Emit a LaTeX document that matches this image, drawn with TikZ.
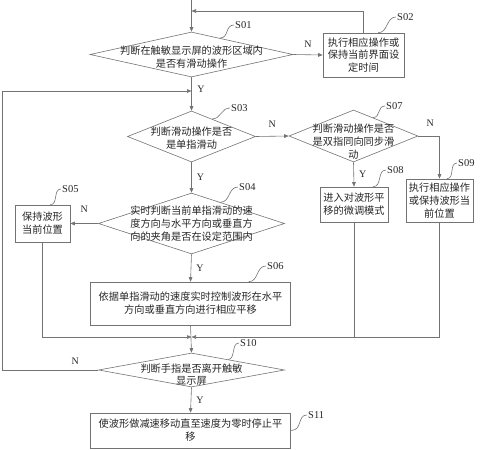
\documentclass[tikz,border=0pt]{standalone}
\usepackage{fontspec}
\setmainfont{Liberation Serif}
\newfontfamily\cjk{Noto Sans CJK SC}
\usetikzlibrary{shapes.geometric,arrows.meta,calc}
\begin{document}
\begin{tikzpicture}[x=1pt,y=-1pt,
  line/.style={draw=black!55,line width=0.6pt},
  arr/.style={line,-{Triangle[length=4.5pt,width=3.6pt]}},
  dia/.style n args={2}{diamond,line,inner sep=0pt,minimum width=#1pt,minimum height=#2pt},
  box/.style n args={2}{rectangle,line,inner sep=0pt,minimum width=#1pt,minimum height=#2pt},
  txt/.style={align=center,text=black!85,font=\cjk\fontsize{10.2}{12.8}\selectfont,inner sep=0pt},
  lab/.style={text=black!85,font=\fontsize{10.5}{12}\selectfont,inner sep=1pt},
  yn/.style={text=black!85,font=\fontsize{10}{12}\selectfont,inner sep=2pt}]
\useasboundingbox (0,0) rectangle (488,450);

% shapes
\node[dia={203}{45}] (d1) at (191.5,54.5) {};
\node[txt] (t1) at (191.5,57) {判断在触敏显示屏的波形区域内\\是否有滑动操作};
\node[box={81}{44},txt] (b2) at (363.5,55) {执行相应操作或\\保持当前界面设\\定时间};
\node[dia={128}{51}] (d3) at (191.5,136.5) {};
\node[txt] (t3) at (191.5,138.5) {判断滑动操作是否\\是单指滑动};
\node[dia={129}{52}] (d7) at (353.5,136) {};
\node[txt] (t7) at (353.5,141.5) {判断滑动操作是否\\是双指同向同步滑\\动};
\node[box={68}{35},txt] (b8) at (354,204.5) {进入对波形平\\移的微调模式};
\node[box={67}{43},txt] (b9) at (439.5,200.5) {执行相应操作\\或保持波形当\\前位置};
\node[dia={186}{61}] (d4) at (191.5,223.5) {};
\node[txt] (t4) at (191.5,223.5) {实时判断当前单指滑动的速\\度方向与水平方向或垂直方\\向的夹角是否在设定范围内};
\node[box={55}{37},txt] (b5) at (42.5,223.5) {保持波形\\当前位置};
\node[box={200}{43},txt] (b6) at (190.5,303.5) {依据单指滑动的速度实时控制波形在水平\\方向或垂直方向进行相应平移};
\node[dia={186}{34}] (d10) at (191.5,370) {};
\node[txt] (t10) at (191.5,374.5) {判断手指是否离开触敏\\显示屏};
\node[box={200}{35},txt] (b11) at (190.5,430.5) {使波形做减速移动直至速度为零时停止平\\移};

% junction coordinates
\coordinate (top) at (191.5,0);
\coordinate (j0) at (191.5,11);
\coordinate (j1) at (191.5,91);
\coordinate (cl) at (2,91);
\coordinate (j2) at (191.5,337);

% connectors
\draw[arr] (top) -- (d1.north);
\draw[arr] (d1.east) -- node[yn,above=5pt]{N} (b2.west);
\draw[arr] (b2.north) |- (j0);
\draw[arr] (d1.south) -- (d3.north);
\node[yn] (y1) at (201,89) {Y};
\draw[arr] (d10.west) -| node[pos=0.12,yn,above=3pt]{N} (cl) -- (j1);
\draw[arr] (d3.east) -- node[yn,above=6pt]{N} (d7.west);
\draw[arr] (d3.south) -- node[yn,right=3pt]{Y} (d4.north);
\draw[arr] (d7.south) -- node[yn,right=3pt]{Y} (b8.north);
\draw[arr] (d7.east) -| node[pos=0.28,yn,above=7pt]{N} (b9.north);
\draw[arr] (d4.west) -- node[yn,above=9pt]{N} (b5.east);
\draw[arr] (d4.south) -- node[yn,right=3pt]{Y} (b6.north);
\draw[arr] (b5.south) |- (j2);
\draw[arr] (b9.south) |- (j2);
\draw[line] (b8.south) -- (b8.south |- j2);
\draw[arr] (b6.south) -- (d10.north);
\draw[arr] (d10.south) -- node[yn,right=3pt]{Y} (b11.north);

% step labels
\node[lab,anchor=west] (l01) at (234,25) {S01};
\draw[line] ($(d1.north)!0.28!(d1.east)$) .. controls +(9,0) and +(-9,0) .. (l01.west);
\node[lab,anchor=west] (l02) at (396,17) {S02};
\draw[line] ($(b2.north west)!0.68!(b2.north east)$) .. controls +(10,0) and +(-10,0) .. (l02.west);
\node[lab,anchor=west] (l03) at (230,108) {S03};
\draw[line] ($(d3.north)!0.32!(d3.east)$) .. controls +(9,0) and +(-9,0) .. (l03.west);
\node[lab,anchor=west] (l07) at (385,106) {S07};
\draw[line] ($(d7.north)!0.3!(d7.east)$) .. controls +(8,0) and +(-8,0) .. (l07.west);
\node[lab,anchor=west] (l08) at (386,170) {S08};
\draw[line] ($(b8.north west)!0.78!(b8.north east)$) .. controls +(9,0) and +(-9,0) .. (l08.west);
\node[lab,anchor=west] (l09) at (457,163) {S09};
\draw[line] ($(b9.north west)!0.61!(b9.north east)$) .. controls +(8,0) and +(-8,0) .. (l09.west);
\node[lab,anchor=west] (l04) at (238,187) {S04};
\draw[line] ($(d4.north)!0.31!(d4.east)$) .. controls +(10,0) and +(-10,0) .. (l04.west);
\node[lab,anchor=west] (l05) at (61,189) {S05};
\draw[line] ($(b5.north west)!0.64!(b5.north east)$) .. controls +(8,0) and +(-8,0) .. (l05.west);
\node[lab,anchor=west] (l06) at (266,266) {S06};
\draw[line] ($(b6.north west)!0.79!(b6.north east)$) .. controls +(10,0) and +(-10,0) .. (l06.west);
\node[lab,anchor=west] (l10) at (239,343) {S10};
\draw[line] ($(d10.north)!0.39!(d10.east)$) .. controls +(8,0) and +(-8,0) .. (l10.west);
\node[lab,anchor=west] (l11) at (307,415) {S11};
\draw[line] (b11.east) .. controls +(12,0) and +(-10,0) .. (l11.west);
\end{tikzpicture}
\end{document}
